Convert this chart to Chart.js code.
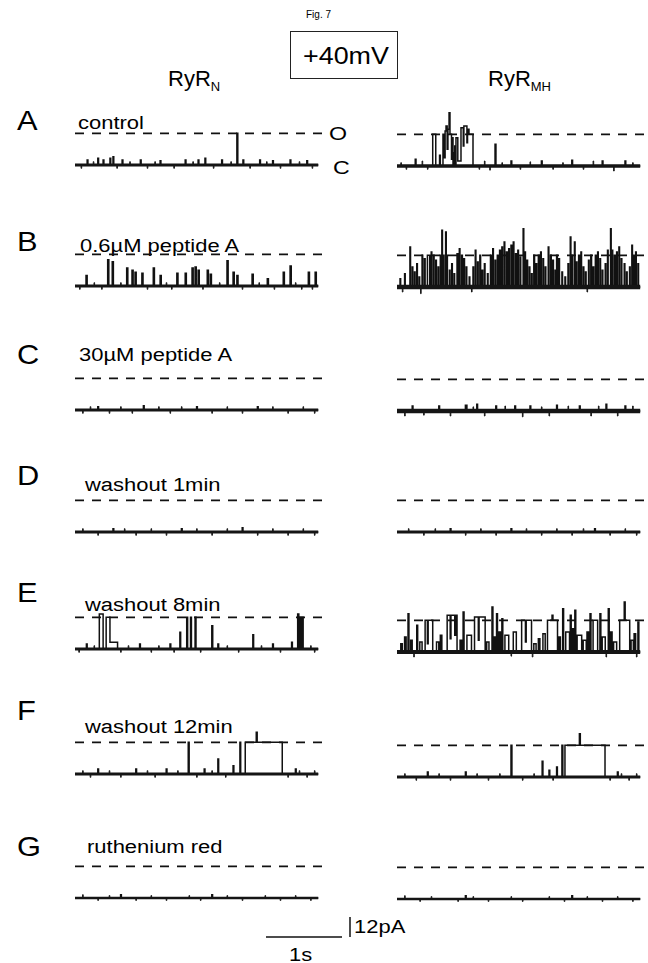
<!DOCTYPE html>
<html lang="en">
<head>
  <meta charset="UTF-8" />
  <title>Fig. 7</title>
  <script src="https://cdn.jsdelivr.net/npm/chart.js"></script>
  <style>
    body {
      margin: 0;
      background: #fff;
      font-family: 'Liberation Sans', Arial, sans-serif;
      color: #000;
    }
    #page {
      position: relative;
      width: 648px;
      height: 963px;
      overflow: hidden;
    }
    .t {
      position: absolute;
      white-space: nowrap;
      line-height: 1;
      transform-origin: left center;
      transform: translateY(-50%) scaleX(1.22);
      font-size: 18px;
    }
    .letter {
      font-size: 28px;
      transform: translateY(-50%) scaleX(1.1);
    }
    .head {
      font-size: 22px;
      transform: translateY(-50%);
    }
    .head sub {
      font-size: 13px;
      vertical-align: -5px;
    }
    #box {
      position: absolute;
      left: 290px;
      top: 31px;
      width: 106px;
      height: 46px;
      border: 1.5px solid #222;
    }
    #box span {
      position: absolute;
      left: 12px;
      top: 24px;
      font-size: 24px;
      line-height: 1;
      transform-origin: left center;
      transform: translateY(-50%) scaleX(1.12);
    }
    canvas { position: absolute; }
  </style>
</head>
<body>
<div id="page">
  <div class="t" style="left:306px;top:15px;font-size:10px;transform:translateY(-50%)">Fig. 7</div>
  <div id="box"><span>+40mV</span></div>
  <div class="t head" style="left:168px;top:80px">RyR<sub>N</sub></div>
  <div class="t head" style="left:488px;top:80px">RyR<sub>MH</sub></div>
  <div class="t" style="left:329px;top:133px;font-size:19px">O</div>
  <div class="t" style="left:333px;top:167px;font-size:19px">C</div>
  <div class="t" style="left:289px;top:955px">1s</div>
  <div class="t" style="left:354px;top:927px">12pA</div>
</div>

<script>
  // row letters and condition labels
  const rowLetters = ['A', 'B', 'C', 'D', 'E', 'F', 'G'];
  const conditions = ['control', '0.6\u00b5M peptide A', '30\u00b5M peptide A',
    'washout  1min', 'washout  8min', 'washout  12min', 'ruthenium red'];

  // trace length (s), open level (pA), scale bar
  const traceEnd = 3.2;
  const openLevel = 19;
  const scaleBarTime = 1;     // s
  const scaleBarCurrent = 12; // pA

  // channel events: [start (s), duration (s), current (pA)]
  const aN = [[0.16,0.01,3],[0.30,0.01,4],[0.37,0.01,3],[0.46,0.01,4],[0.50,0.01,5],[0.62,0.01,3],
    [0.86,0.01,3],[1.12,0.01,2.5],[1.45,0.01,3],[1.62,0.01,3],[1.71,0.01,4],[1.93,0.01,3],
    [2.13,0.012,19],[2.21,0.01,3],[2.43,0.01,3],[2.60,0.01,2.5],[2.83,0.01,3],[3.05,0.01,2.5]];
  const aMH = [[0.24,0.01,4],[0.47,0.04,19],[0.56,0.01,6.5],[0.605,0.02,19],[0.625,0.008,5],
    [0.633,0.012,21],[0.645,0.015,24],[0.66,0.01,10],[0.67,0.015,22],[0.685,0.012,32],
    [0.697,0.02,19],[0.717,0.008,4],[0.725,0.012,17],[0.745,0.01,8],[0.76,0.01,12],
    [0.776,0.024,17],[0.80,0.042,3],[0.842,0.03,23],[0.872,0.008,12],[0.88,0.04,24],
    [0.92,0.008,14],[0.928,0.019,22],[0.947,0.053,19],[1.29,0.012,13],[1.5,0.01,3],
    [1.9,0.01,3],[2.3,0.01,3.5],[2.7,0.01,3],[3.0,0.01,3]];

  const bN = [[0.145,0.015,6.3],[0.43,0.015,15.8],[0.49,0.015,14.6],[0.68,0.015,10.8],[0.75,0.015,9.5],
    [0.79,0.015,8.2],[0.88,0.015,7.6],[1.03,0.015,10.8],[1.12,0.015,6.3],[1.34,0.015,7.6],
    [1.45,0.015,7.6],[1.54,0.015,10.8],[1.58,0.015,11.4],[1.62,0.015,9.5],[1.74,0.015,9.5],
    [1.78,0.015,7],[2.0,0.015,15.2],[2.08,0.015,8.2],[2.13,0.015,6.3],[2.33,0.015,7],
    [2.53,0.015,4.4],[2.74,0.015,8.2],[2.83,0.015,12],[3.07,0.015,8.2],[3.16,0.015,8.2]];
  const bMH = [[0.04,0.008,5],[0.10,0.008,8],[0.17,0.008,24],[0.20,0.008,12],[0.23,0.008,9],[0.26,0.008,14],
    [0.29,0.008,6],[0.33,0.008,19],[0.36,0.01,17],[0.40,0.03,19],[0.45,0.008,21],
    [0.48,0.008,19],[0.51,0.008,16],[0.54,0.008,12],[0.57,0.008,19],[0.59,0.008,34],[0.61,0.008,19],
    [0.64,0.008,33],[0.655,0.008,19],[0.69,0.008,10],[0.72,0.008,14],[0.75,0.008,8],[0.79,0.01,20],
    [0.82,0.008,23],[0.85,0.01,19],[0.88,0.008,17],[0.91,0.008,12],[0.95,0.008,6],[1.00,0.008,12],
    [1.03,0.008,22],[1.06,0.008,15],[1.09,0.01,19],[1.12,0.008,10],[1.15,0.008,14],[1.19,0.008,8],
    [1.23,0.01,19],[1.26,0.008,23],[1.29,0.008,16],[1.32,0.01,19],[1.35,0.01,22],[1.38,0.008,24],
    [1.41,0.008,27],[1.44,0.01,21],[1.47,0.008,23],[1.50,0.01,25],[1.53,0.008,27],[1.56,0.01,20],
    [1.59,0.008,22],[1.62,0.008,18],[1.66,0.008,35],[1.68,0.01,21],[1.71,0.008,16],[1.74,0.008,12],
    [1.77,0.008,8],[1.80,0.01,19],[1.83,0.008,14],[1.86,0.01,19],[1.89,0.008,21],[1.92,0.008,17],
    [1.95,0.008,12],[1.99,0.008,24],[2.02,0.01,19],[2.05,0.008,16],[2.08,0.008,10],[2.10,0.01,19],
    [2.13,0.008,17],[2.17,0.008,9],[2.21,0.008,6],[2.25,0.008,14],[2.28,0.008,30],[2.30,0.01,19],
    [2.335,0.008,27],[2.36,0.008,15],[2.39,0.01,19],[2.42,0.008,21],[2.45,0.008,12],[2.48,0.008,9],
    [2.52,0.008,16],[2.55,0.01,19],[2.58,0.008,12],[2.61,0.01,19],[2.64,0.008,21],[2.67,0.008,17],
    [2.70,0.008,10],[2.74,0.008,14],[2.77,0.008,22],[2.81,0.008,35],[2.83,0.008,22],[2.86,0.01,19],
    [2.89,0.008,21],[2.92,0.008,24],[2.95,0.008,17],[2.99,0.008,14],[3.02,0.008,9],[3.06,0.008,12],
    [3.09,0.008,25],[3.11,0.01,19],[3.14,0.008,21],[3.17,0.008,14]];

  const cN = [[0.3,0.01,2],[0.9,0.01,2.5],[1.6,0.01,2],[2.4,0.01,2]];
  const cMH = [[0.2,0.01,3],[0.55,0.01,3],[0.9,0.02,3.5],[1.05,0.01,4],[1.3,0.01,3],[1.55,0.01,3],
    [1.75,0.01,3],[2.1,0.01,3.5],[2.4,0.01,3],[2.75,0.01,4],[3.0,0.01,3]];

  const dN = [[0.5,0.01,2],[1.4,0.01,2],[2.2,0.01,2.5]];
  const dMH = [[0.7,0.01,2],[1.5,0.01,2],[2.6,0.01,2]];

  const eN = [[0.15,0.01,3],[0.32,0.05,21],[0.41,0.05,19],[0.46,0.10,4],[0.85,0.01,3],[1.25,0.01,3],
    [1.38,0.01,10],[1.47,0.012,19],[1.52,0.012,19],[1.58,0.012,19],[1.80,0.012,14],[1.88,0.01,3],
    [2.34,0.01,8.5],[2.6,0.01,3],[2.85,0.01,4],[2.93,0.015,21],[2.96,0.015,19],[2.99,0.012,19]];
  const eMH = [[0.05,0.02,5],[0.10,0.02,9],[0.145,0.012,23],[0.18,0.02,7],[0.26,0.012,16],[0.30,0.03,6],
    [0.37,0.03,19],[0.40,0.01,5],[0.41,0.06,19],[0.52,0.03,6],[0.57,0.02,10],[0.66,0.04,22],
    [0.70,0.01,8],[0.71,0.05,22],[0.76,0.01,10],[0.77,0.02,22],[0.83,0.02,7],[0.87,0.012,24],
    [0.92,0.06,10],[1.02,0.05,21],[1.07,0.01,7],[1.08,0.08,21],[1.18,0.03,6],[1.25,0.012,27],
    [1.28,0.02,9],[1.31,0.012,23],[1.34,0.02,12],[1.38,0.012,20],[1.42,0.05,10],[1.53,0.04,12],
    [1.64,0.05,19],[1.69,0.01,6],[1.70,0.07,19],[1.80,0.03,5],[1.86,0.02,8],[1.92,0.03,11],
    [1.98,0.06,19],[2.04,0.012,22],[2.052,0.06,19],[2.13,0.02,9],[2.18,0.012,26],[2.22,0.05,12],
    [2.28,0.012,22],[2.30,0.02,14],[2.34,0.012,25],[2.37,0.06,10],[2.45,0.04,7],[2.50,0.02,12],
    [2.54,0.012,23],[2.58,0.06,19],[2.67,0.012,23],[2.70,0.04,9],[2.78,0.012,26],[2.81,0.02,12],
    [2.85,0.04,6],[2.93,0.06,19],[2.99,0.012,30],[3.002,0.06,19],[3.08,0.03,7],[3.12,0.02,11],
    [3.17,0.012,18]];

  const fN = [[0.3,0.01,3],[0.8,0.01,3],[1.2,0.01,3],[1.49,0.012,19],[1.7,0.01,3],[1.88,0.01,9],
    [2.08,0.01,5],[2.17,0.01,19],[2.24,0.145,19],[2.385,0.012,25],[2.397,0.33,19],[2.9,0.01,3]];
  const fMH = [[0.4,0.01,3],[0.9,0.01,3],[1.50,0.012,19],[1.91,0.01,9.5],[2.0,0.01,4],[2.10,0.01,6],
    [2.17,0.012,19],[2.21,0.19,19],[2.40,0.012,26],[2.412,0.325,19],[2.9,0.01,3]];

  const gN = [[0.6,0.01,2],[1.8,0.01,2]];
  const gMH = [[0.9,0.01,2],[2.3,0.01,2]];

  // baseline noise flickers: [time (s), current (pA)]
  const aNNoise = [[0.08,-2],[0.24,2],[0.55,-2],[0.72,2],[0.95,-2],[1.05,2],[1.3,-2],[1.55,2],
    [1.82,-2],[2.05,2],[2.3,-2],[2.52,2],[2.7,-2],[2.95,2],[3.12,-2]];
  const aMHNoise = [[0.05,2],[0.12,-2],[0.33,3],[0.40,-2],[1.08,-2],[1.15,3],[1.22,-2.5],[1.38,2],
    [1.62,-2],[1.75,2.5],[2.05,-2],[2.18,2],[2.45,-2],[2.58,3],[2.85,-3],[3.1,2]];
  const bNNoise = [[0.06,-2],[0.25,2],[0.35,-2],[0.6,2],[0.95,-2],[1.2,2],[1.27,-2],[1.68,-2],
    [1.9,2],[2.2,-2],[2.42,2],[2.62,-2],[2.9,2],[2.98,-2],[3.12,-2]];
  const bMHNoise = [[0.07,-3],[0.31,-4],[0.98,-3],[1.18,-4],[1.76,-3],[2.2,-4],[2.5,-3],[3.05,-3]];
  const cNNoise = [[0.1,-2],[0.2,2],[0.45,-2],[0.6,2],[0.75,-2],[1.1,2],[1.25,-2],[1.4,2],[1.8,-2],
    [2.0,2],[2.2,-2],[2.6,2],[2.8,-2],[3.0,2],[3.15,-2]];
  const cMHNoise = [[0.1,-3],[0.35,-2.5],[0.7,-3],[1.0,2.5],[1.15,-3],[1.42,3],[1.65,-3.5],[1.9,2.5],
    [2.0,-3],[2.25,3],[2.55,-3],[2.65,3],[2.9,-3],[3.1,3]];
  const dNNoise = [[0.1,2],[0.3,-2],[0.65,2],[0.8,-2],[1.0,2],[1.2,-2],[1.6,2],[1.8,-2],[2.0,2],
    [2.4,-2],[2.6,2],[2.8,-2],[3.0,2],[3.15,-2]];
  const dMHNoise = [[0.15,2],[0.35,-2],[0.5,2],[0.9,-2],[1.1,2],[1.3,-2],[1.7,2],[1.9,-2],[2.1,2],
    [2.3,-2],[2.45,2],[2.8,-2],[3.0,2],[3.15,-2]];
  const eNNoise = [[0.05,-2],[0.25,2],[0.6,-2],[0.7,2],[1.0,-2],[1.1,2],[1.3,-2],[1.65,-2],[2.0,2],
    [2.15,-2],[2.45,2],[2.7,-2],[3.1,2],[3.15,-2]];
  const eMHNoise = [[0.22,-3],[0.55,-2.5],[0.86,-3],[1.2,-3],[1.5,-2.5],[1.78,-3],[2.14,-3],
    [2.5,-3],[2.75,-3],[3.15,-3]];
  const fNNoise = [[0.1,2],[0.2,-2],[0.45,2],[0.6,-2],[0.95,2],[1.05,-2],[1.35,2],[1.6,-2],[1.8,2],
    [1.98,-2],[2.8,-2],[2.95,2],[3.05,-2],[3.15,2]];
  const fMHNoise = [[0.1,2],[0.25,-2],[0.55,2],[0.7,-2],[1.05,2],[1.2,-2],[1.35,2],[1.65,-2],[1.8,2],
    [2.05,-2],[2.8,-2],[2.95,2],[3.05,-2],[3.15,2]];
  const gNNoise = [[0.1,2],[0.3,-1.5],[0.45,1.5],[0.8,-1.5],[1.0,1.5],[1.2,-1.5],[1.5,1.5],[1.65,-1.5],
    [2.0,1.5],[2.2,-1.5],[2.5,1.5],[2.7,-1.5],[2.9,1.5],[3.1,-1.5]];
  const gMHNoise = gNNoise; // both ruthenium red records look the same

  const recordsN = [aN, bN, cN, dN, eN, fN, gN];
  const recordsMH = [aMH, bMH, cMH, dMH, eMH, fMH, gMH];
  const noiseRecN = [aNNoise, bNNoise, cNNoise, dNNoise, eNNoise, fNNoise, gNNoise];
  const noiseRecMH = [aMHNoise, bMHNoise, cMHNoise, dMHNoise, eMHNoise, fMHNoise, gMHNoise];

  // ---- layout (pixels) ----
  const pxPerSec = 76;
  const pxPerPA = 70 / 42;
  const yMin = -6, yMax = 36;
  const xMax = 3.25;
  const colLeft = [75, 397];
  const baseN = [165, 286, 410, 532, 649, 774, 898];
  const baseMH = [166, 287, 411, 532, 652, 777, 899];
  const bandN = [3, 3, 3, 3, 3, 3, 2.5];
  const bandMH = [3.5, 4.5, 4.5, 3, 4, 3, 2.5];
  const letterY = [121, 242, 355, 476, 593, 711, 847];
  const labelX = [78, 80, 79, 85, 85, 85, 87];
  const labelY = [123, 246, 355, 485, 605, 727, 847];

  const page = document.getElementById('page');

  function addText(cls, txt, x, y) {
    const d = document.createElement('div');
    d.className = cls;
    d.textContent = txt;
    d.style.left = x + 'px';
    d.style.top = y + 'px';
    page.appendChild(d);
  }

  function addCanvas(left, top, w, h) {
    const c = document.createElement('canvas');
    c.width = w;
    c.height = h;
    c.style.left = left + 'px';
    c.style.top = top + 'px';
    page.appendChild(c);
    return c;
  }

  // events -> step points (level holds until next point)
  function buildTrace(events) {
    const ev = events.slice().sort((a, b) => a[0] - b[0]);
    const pts = [{ x: 0, y: 0 }];
    ev.forEach((e, i) => {
      const [t, d, a] = e;
      pts.push({ x: t, y: a });
      const next = ev[i + 1];
      if (!next || Math.abs(next[0] - (t + d)) > 1e-6) pts.push({ x: t + d, y: 0 });
    });
    pts.push({ x: traceEnd, y: 0 });
    return pts;
  }

  // short noise flickers, dropped where they would fall inside a channel event
  function noiseEvents(noise, events) {
    return noise
      .filter(([t]) => !events.some(([s, d]) => t > s - 0.012 && t < s + d + 0.005))
      .map(([t, a]) => [t, 0.008, a]);
  }

  const baseOpts = {
    responsive: false,
    animation: false,
    events: [],
    layout: { padding: 0 },
    plugins: { legend: { display: false }, tooltip: { enabled: false } },
    elements: { point: { radius: 0 } }
  };

  function drawRecord(events, noise, left, baseline, band) {
    const w = Math.round(xMax * pxPerSec);
    const h = Math.round((yMax - yMin) * pxPerPA);
    const top = baseline - Math.round(yMax * pxPerPA);
    const canvas = addCanvas(left, top, w, h);
    new Chart(canvas, {
      type: 'line',
      data: {
        datasets: [
          {
            data: [{ x: 0, y: openLevel }, { x: xMax, y: openLevel }],
            borderColor: '#111', borderWidth: 1.8, borderDash: [9, 8]
          },
          {
            data: [{ x: 0, y: 0 }, { x: traceEnd, y: 0 }],
            borderColor: '#151515', borderWidth: band
          },
          {
            data: buildTrace(noiseEvents(noise, events)),
            borderColor: '#151515', borderWidth: 1, stepped: true
          },
          {
            data: buildTrace(events),
            borderColor: '#111', borderWidth: 1.5, stepped: true
          }
        ]
      },
      options: Object.assign({}, baseOpts, {
        scales: {
          x: { type: 'linear', display: false, min: 0, max: xMax },
          y: { display: false, min: yMin, max: yMax }
        }
      })
    });
  }

  rowLetters.forEach((L, i) => {
    addText('t letter', L, 17, letterY[i]);
    addText('t', conditions[i], labelX[i], labelY[i]);
    drawRecord(recordsN[i], noiseRecN[i], colLeft[0], baseN[i], bandN[i]);
    drawRecord(recordsMH[i], noiseRecMH[i], colLeft[1], baseMH[i], bandMH[i]);
  });

  // scale bar: 1 s horizontal, 12 pA vertical
  (function () {
    const left = 262, top = 905, w = 95, h = 40;
    const xmin = -4 / pxPerSec;
    const ymin = -8 / pxPerPA;
    const canvas = addCanvas(left, top, w, h);
    const vx = scaleBarTime + 8 / pxPerSec;
    new Chart(canvas, {
      type: 'line',
      data: {
        datasets: [
          { data: [{ x: 0, y: 0 }, { x: scaleBarTime, y: 0 }], borderColor: '#111', borderWidth: 1.5 },
          { data: [{ x: vx, y: 0 }, { x: vx, y: scaleBarCurrent }], borderColor: '#111', borderWidth: 1.5 }
        ]
      },
      options: Object.assign({}, baseOpts, {
        scales: {
          x: { type: 'linear', display: false, min: xmin, max: xmin + w / pxPerSec },
          y: { display: false, min: ymin, max: ymin + h / pxPerPA }
        }
      })
    });
  })();
</script>
</body>
</html>
